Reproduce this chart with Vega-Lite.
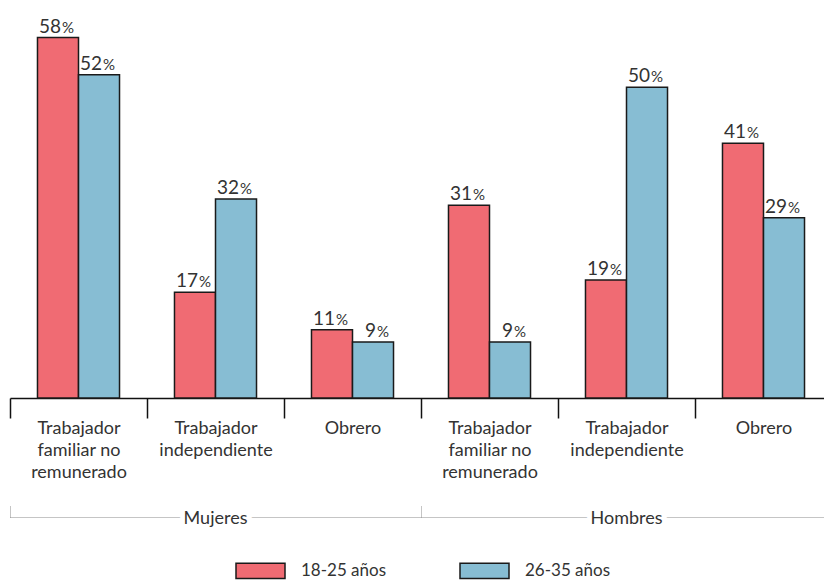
{
  "$schema": "https://vega.github.io/schema/vega-lite/v6.json",
  "width": 814,
  "height": 376,
  "autosize": {"type": "none"},
  "padding": {"left": 10, "top": 22, "right": 0, "bottom": 183},
  "config": {"view": {"stroke": null}, "font": "Lato"},
  "data": {
    "values": [
      {"grupo": "Mujeres", "puesto": "Mujeres: Trabajador familiar no remunerado", "edad": "18-25 años", "pct": 58},
      {"grupo": "Mujeres", "puesto": "Mujeres: Trabajador familiar no remunerado", "edad": "26-35 años", "pct": 52},
      {"grupo": "Mujeres", "puesto": "Mujeres: Trabajador independiente", "edad": "18-25 años", "pct": 17},
      {"grupo": "Mujeres", "puesto": "Mujeres: Trabajador independiente", "edad": "26-35 años", "pct": 32},
      {"grupo": "Mujeres", "puesto": "Mujeres: Obrero", "edad": "18-25 años", "pct": 11},
      {"grupo": "Mujeres", "puesto": "Mujeres: Obrero", "edad": "26-35 años", "pct": 9},
      {"grupo": "Hombres", "puesto": "Hombres: Trabajador familiar no remunerado", "edad": "18-25 años", "pct": 31},
      {"grupo": "Hombres", "puesto": "Hombres: Trabajador familiar no remunerado", "edad": "26-35 años", "pct": 9},
      {"grupo": "Hombres", "puesto": "Hombres: Trabajador independiente", "edad": "18-25 años", "pct": 19},
      {"grupo": "Hombres", "puesto": "Hombres: Trabajador independiente", "edad": "26-35 años", "pct": 50},
      {"grupo": "Hombres", "puesto": "Hombres: Obrero", "edad": "18-25 años", "pct": 41},
      {"grupo": "Hombres", "puesto": "Hombres: Obrero", "edad": "26-35 años", "pct": 29}
    ]
  },
  "encoding": {
    "x": {
      "field": "puesto",
      "type": "nominal",
      "sort": [
        "Mujeres: Trabajador familiar no remunerado",
        "Mujeres: Trabajador independiente",
        "Mujeres: Obrero",
        "Hombres: Trabajador familiar no remunerado",
        "Hombres: Trabajador independiente",
        "Hombres: Obrero"
      ],
      "scale": {"range": [0, 822], "paddingInner": 0, "paddingOuter": 0}
    },
    "y": {
      "field": "pct",
      "type": "quantitative",
      "scale": {"domain": [0, 60.5]},
      "axis": null
    }
  },
  "layer": [
    {
      "encoding": {
        "x": {
          "field": "puesto",
          "type": "nominal",
          "sort": [
            "Mujeres: Trabajador familiar no remunerado",
            "Mujeres: Trabajador independiente",
            "Mujeres: Obrero",
            "Hombres: Trabajador familiar no remunerado",
            "Hombres: Trabajador independiente",
            "Hombres: Obrero"
          ],
          "scale": {"range": [0, 822], "paddingInner": 0, "paddingOuter": 0},
          "axis": {
            "title": null,
            "orient": "bottom",
            "domainColor": "#111111",
            "domainWidth": 1.5,
            "tickColor": "#111111",
            "tickWidth": 1.5,
            "tickSize": 20,
            "tickBand": "extent",
            "labelAngle": 0,
            "labelFont": "Lato",
            "labelFontSize": 18,
            "labelColor": "#333333",
            "labelBaseline": "alphabetic",
            "labelPadding": 15,
            "labelLineHeight": 22,
            "labelLimit": 0,
            "labelExpr": "indexof('' + datum.value, 'familiar') >= 0 ? ['Trabajador', 'familiar no', 'remunerado'] : indexof('' + datum.value, 'independiente') >= 0 ? ['Trabajador', 'independiente'] : indexof('' + datum.value, 'Obrero') >= 0 ? 'Obrero' : ''"
          }
        },
        "xOffset": {
          "field": "edad",
          "type": "nominal",
          "scale": {"paddingInner": 0, "paddingOuter": 0.67}
        }
      },
      "layer": [
        {
          "mark": {"type": "bar", "stroke": "#1a1a1a", "strokeWidth": 1.5},
          "encoding": {
            "fill": {
              "field": "edad",
              "type": "nominal",
              "scale": {"domain": ["18-25 años", "26-35 años"], "range": ["#F06B73", "#87BDD3"]},
              "legend": {
                "title": null,
                "orient": "none",
                "legendX": 225,
                "legendY": 523,
                "direction": "horizontal",
                "columns": 2,
                "columnPadding": 70,
                "symbolType": "M-1,-0.31H1V0.31H-1Z",
                "symbolSize": 2401,
                "symbolStrokeWidth": 1.5,
                "labelFont": "Lato",
                "labelFontSize": 17,
                "labelColor": "#333333",
                "labelOffset": 15
              }
            }
          }
        },
        {
          "mark": {"type": "text", "align": "right", "baseline": "alphabetic", "dx": 3, "dy": -5, "fontSize": 19, "color": "#333333"},
          "encoding": {"text": {"field": "pct", "type": "quantitative", "format": "d"}}
        },
        {
          "mark": {"type": "text", "align": "left", "baseline": "alphabetic", "dx": 4, "dy": -5, "fontSize": 15, "color": "#333333"},
          "encoding": {"text": {"value": "%"}}
        }
      ]
    },
    {
      "mark": {"type": "point", "opacity": 0},
      "encoding": {
        "x": {
          "field": "puesto",
          "type": "nominal",
          "axis": {
            "title": null,
            "orient": "bottom",
            "offset": 119,
            "values": ["Mujeres: Trabajador familiar no remunerado", "Hombres: Trabajador familiar no remunerado"],
            "bandPosition": 0,
            "domainColor": "#8a8a8a",
            "domainDash": [1, 1],
            "domainWidth": 1,
            "tickColor": "#8a8a8a",
            "tickDash": [1, 1],
            "tickWidth": 1,
            "tickSize": -12,
            "labels": false
          }
        }
      }
    },
    {
      "mark": {"type": "point", "opacity": 0},
      "encoding": {
        "x": {
          "field": "puesto",
          "type": "nominal",
          "axis": {
            "title": null,
            "orient": "bottom",
            "offset": 119,
            "values": ["Mujeres: Trabajador independiente", "Hombres: Trabajador independiente"],
            "domain": false,
            "ticks": false,
            "labelAngle": 0,
            "labelFont": "Lato",
            "labelFontSize": 18,
            "labelColor": "white",
            "labelBaseline": "alphabetic",
            "labelPadding": 6,
            "labelExpr": "indexof('' + datum.value, 'Mujeres') == 0 ? 'Mujeres' : 'Hombres'",
            "encoding": {"labels": {"stroke": {"value": "white"}, "strokeWidth": {"value": 10}}}
          }
        }
      }
    },
    {
      "mark": {"type": "point", "opacity": 0},
      "encoding": {
        "x": {
          "field": "puesto",
          "type": "nominal",
          "axis": {
            "title": null,
            "orient": "bottom",
            "offset": 119,
            "values": ["Mujeres: Trabajador independiente", "Hombres: Trabajador independiente"],
            "domain": false,
            "ticks": false,
            "labelAngle": 0,
            "labelFont": "Lato",
            "labelFontSize": 18,
            "labelColor": "#333333",
            "labelBaseline": "alphabetic",
            "labelPadding": 6,
            "labelExpr": "indexof('' + datum.value, 'Mujeres') == 0 ? 'Mujeres' : 'Hombres'"
          }
        }
      }
    }
  ],
  "resolve": {"axis": {"x": "independent"}}
}
